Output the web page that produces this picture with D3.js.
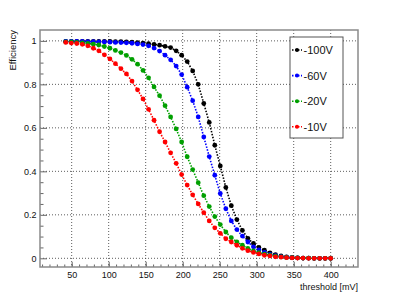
<!DOCTYPE html>
<html>
<head>
<meta charset="utf-8">
<script src="https://cdn.jsdelivr.net/npm/d3@7"></script>
<style>
  body { margin: 0; background: #fff; }
  text { font-family: "Liberation Sans", Arial, sans-serif; }
</style>
</head>
<body>
<div class="eff_chart"></div>
<script>
const thresholds = [42, 49.5, 56.9, 64.4, 71.8, 79.3, 86.7, 94.2, 101.7, 109.1,
  116.6, 124, 131.5, 139, 146.4, 153.9, 161.3, 168.8, 176.2, 183.7,
  191.2, 198.6, 206.1, 213.5, 221, 228.5, 235.9, 243.4, 250.8, 258.3,
  265.7, 273.2, 280.7, 288.1, 295.6, 303, 310.5, 318, 325.4, 332.9,
  340.3, 347.8, 355.2, 362.7, 370.2, 377.6, 385.1, 392.5, 400]

const eff100 = [0.998, 0.998, 0.998, 0.998, 0.998, 0.997, 0.997, 0.997, 0.997, 0.996,
  0.996, 0.995, 0.994, 0.992, 0.990, 0.987, 0.984, 0.980, 0.975, 0.969,
  0.954, 0.934, 0.905, 0.862, 0.800, 0.712, 0.625, 0.520, 0.425, 0.326,
  0.242, 0.178, 0.128, 0.092, 0.068, 0.050, 0.037, 0.025, 0.017, 0.011,
  0.007, 0.004, 0.002, 0.001, 0.001, 0, 0, 0, 0]
const eff60 = [0.997, 0.997, 0.997, 0.997, 0.996, 0.996, 0.995, 0.995, 0.994, 0.993,
  0.992, 0.991, 0.989, 0.986, 0.983, 0.977, 0.967, 0.953, 0.934, 0.913,
  0.884, 0.845, 0.787, 0.725, 0.650, 0.558, 0.468, 0.382, 0.298, 0.228,
  0.172, 0.132, 0.102, 0.075, 0.053, 0.039, 0.027, 0.018, 0.012, 0.008,
  0.005, 0.003, 0.002, 0.001, 0.001, 0, 0, 0, 0]
const eff20 = [0.995, 0.995, 0.993, 0.991, 0.988, 0.985, 0.981, 0.974, 0.966, 0.956,
  0.946, 0.933, 0.915, 0.893, 0.864, 0.830, 0.788, 0.748, 0.702, 0.650,
  0.595, 0.535, 0.467, 0.408, 0.348, 0.288, 0.238, 0.192, 0.155, 0.121,
  0.095, 0.076, 0.060, 0.045, 0.034, 0.026, 0.019, 0.014, 0.010, 0.007,
  0.004, 0.003, 0.002, 0.001, 0.001, 0, 0, 0, 0]
const eff10 = [0.993, 0.990, 0.988, 0.984, 0.977, 0.966, 0.954, 0.936, 0.917, 0.895,
  0.872, 0.848, 0.815, 0.775, 0.733, 0.685, 0.635, 0.582, 0.535, 0.485,
  0.437, 0.385, 0.337, 0.292, 0.250, 0.210, 0.172, 0.140, 0.115, 0.090,
  0.075, 0.060, 0.046, 0.035, 0.027, 0.020, 0.014, 0.011, 0.007, 0.005,
  0.003, 0.002, 0.001, 0.001, 0, 0, 0, 0, 0]

const seriesNames = ['-100V', '-60V', '-20V', '-10V']
const seriesValues = [eff100, eff60, eff20, eff10]
const seriesColors = ['#000000', '#0000ff', '#00a000', '#ff0000']

const xMajor = [50, 100, 150, 200, 250, 300, 350, 400]
const yMajor = [0, 0.2, 0.4, 0.6, 0.8, 1]

const width = 398
const height = 299
const frame = {left: 40, right: 358, top: 30, bottom: 267}

const x = d3.scaleLinear().domain([7.2, 436.9]).range([frame.left, frame.right])
const y = d3.scaleLinear().domain([-0.04, 1.05]).range([frame.bottom, frame.top])

const svg = d3.select('.eff_chart').append('svg')
  .attr('width', width)
  .attr('height', height)

// dotted grid
svg.append('g').selectAll('line')
  .data(xMajor)
  .enter().append('line')
  .attr('x1', d => x(d)).attr('x2', d => x(d))
  .attr('y1', frame.top).attr('y2', frame.bottom)
  .attr('stroke', '#333').attr('stroke-width', 0.8).attr('stroke-dasharray', '1,2')
svg.append('g').selectAll('line')
  .data(yMajor)
  .enter().append('line')
  .attr('x1', frame.left).attr('x2', frame.right)
  .attr('y1', d => y(d)).attr('y2', d => y(d))
  .attr('stroke', '#333').attr('stroke-width', 0.8).attr('stroke-dasharray', '1,2')

// axes, ticks point inward
const xMinor = d3.range(10, 440, 10)
const yMinor = d3.range(0.05, 1.05, 0.05).filter(v => Math.abs(v * 5 - Math.round(v * 5)) > 0.01)

svg.append('g')
  .attr('transform', 'translate(0,' + frame.bottom + ')')
  .call(d3.axisBottom(x).tickValues(xMinor).tickFormat('').tickSizeInner(-2.5).tickSizeOuter(0))
svg.append('g')
  .attr('class', 'x-major')
  .attr('transform', 'translate(0,' + frame.bottom + ')')
  .call(d3.axisBottom(x).tickValues(xMajor).tickSizeInner(-5).tickSizeOuter(0).tickPadding(5))
svg.append('g')
  .attr('transform', 'translate(' + frame.left + ',0)')
  .call(d3.axisLeft(y).tickValues(yMinor).tickFormat('').tickSizeInner(-3.5).tickSizeOuter(0))
svg.append('g')
  .attr('class', 'y-major')
  .attr('transform', 'translate(' + frame.left + ',0)')
  .call(d3.axisLeft(y).tickValues(yMajor).tickFormat(d => String(+d.toFixed(1)))
    .tickSizeInner(-7).tickSizeOuter(0).tickPadding(3.5))

svg.selectAll('.domain').remove()
svg.selectAll('.tick line').attr('stroke', '#666')
svg.selectAll('.tick text').attr('font-size', 9).attr('fill', '#111')
  .attr('font-family', '"Liberation Sans", Arial, sans-serif')

// frame
svg.append('rect')
  .attr('x', frame.left).attr('y', frame.top)
  .attr('width', frame.right - frame.left).attr('height', frame.bottom - frame.top)
  .attr('fill', 'none').attr('stroke', '#8a8a8a').attr('stroke-width', 1.5)

// axis titles
svg.append('text')
  .attr('x', frame.right).attr('y', 289.5)
  .attr('text-anchor', 'end').attr('font-size', 9).attr('fill', '#111')
  .text('threshold [mV]')
svg.append('text')
  .attr('transform', 'translate(16,' + frame.top + ') rotate(-90)')
  .attr('text-anchor', 'end').attr('font-size', 9.5).attr('fill', '#111')
  .text('Efficiency')

// curves
const line = d3.line()
  .x((d, i) => x(thresholds[i]))
  .y(d => y(d))

seriesValues.forEach((vals, k) => {
  const g = svg.append('g')
  g.append('path')
    .datum(vals)
    .attr('d', line)
    .attr('fill', 'none')
    .attr('stroke', seriesColors[k])
    .attr('stroke-width', 1.6)
    .attr('stroke-dasharray', '1.5,1.5')
  g.selectAll('circle')
    .data(vals)
    .enter().append('circle')
    .attr('cx', (d, i) => x(thresholds[i]))
    .attr('cy', d => y(d))
    .attr('r', 2.4)
    .attr('fill', seriesColors[k])
})

// legend
const legend = svg.append('g').attr('transform', 'translate(290,37)')
legend.append('rect')
  .attr('width', 53).attr('height', 101)
  .attr('fill', '#fff').attr('stroke', '#555').attr('stroke-width', 1)

const item = legend.selectAll('.item')
  .data(seriesNames)
  .enter().append('g')
  .attr('transform', (d, i) => 'translate(0,' + (13 + i * 25.6) + ')')
item.append('line')
  .attr('x1', 2).attr('x2', 12)
  .attr('stroke', (d, i) => seriesColors[i])
  .attr('stroke-width', 1.6).attr('stroke-dasharray', '1.5,1.5')
item.append('circle')
  .attr('cx', 7).attr('r', 2)
  .attr('fill', (d, i) => seriesColors[i])
item.append('text')
  .attr('x', 13.5).attr('y', 4)
  .attr('font-size', 11).attr('fill', '#111')
  .text(d => d)
</script>
</body>
</html>
